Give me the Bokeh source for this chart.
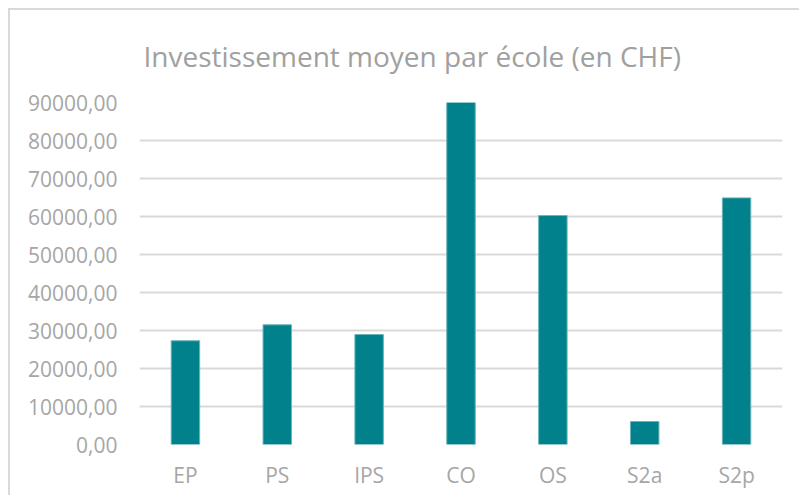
from bokeh.plotting import figure
from bokeh.models import Range1d, FixedTicker, ColumnDataSource
from bokeh.embed import file_html
from bokeh.resources import INLINE

title_text = "Investissement moyen par école (en CHF)"
categories = ["EP", "PS", "IPS", "CO", "OS", "S2a", "S2p"]
values = [27300, 31500, 28950, 90000, 60250, 6050, 64900]
y_ticks = [0, 10000, 20000, 30000, 40000, 50000, 60000, 70000, 80000, 90000]
y_tick_labels = ["0,00", "10000,00", "20000,00", "30000,00", "40000,00",
                 "50000,00", "60000,00", "70000,00", "80000,00", "90000,00"]

src = ColumnDataSource(data=dict(cat=categories, val=values))

p = figure(x_range=categories, y_range=Range1d(0, 90000),
           width=791, height=487, output_backend="svg", toolbar_location=None,
           title=title_text,
           min_border_left=129, min_border_right=19, min_border_top=92,
           min_border_bottom=53,
           styles={"border-left": "2px solid #d9d9d9", "border-top": "2px solid #d9d9d9",
                   "margin-left": "8px", "margin-top": "8px"})

p.vbar(x="cat", top="val", width=0.31, source=src,
       fill_color="#00818B", line_color="#6db5ba", line_width=1)

p.outline_line_color = None
p.background_fill_color = "white"
p.border_fill_color = "white"

p.title.text_font = "Open Sans"
p.title.text_font_size = "28px"
p.title.text_font_style = "normal"
p.title.text_color = "#a0a0a0"
p.title.align = "left"
p.title.offset = 4
p.title.standoff = 52
p.title.vertical_align = "top"

p.yaxis.ticker = FixedTicker(ticks=y_ticks)
p.yaxis.major_label_overrides = {t: l for t, l in zip(y_ticks, y_tick_labels)}
p.yaxis.axis_line_color = None
p.yaxis.major_tick_line_color = None
p.yaxis.minor_tick_line_color = None
p.yaxis.major_label_standoff = 16
p.yaxis.major_label_text_font = "Open Sans"
p.yaxis.major_label_text_font_size = "21px"
p.yaxis.major_label_text_color = "#a6a6a6"

p.xaxis.axis_line_color = None
p.xaxis.major_tick_line_color = None
p.xaxis.minor_tick_line_color = None
p.xaxis.major_label_standoff = 10
p.xaxis.major_label_text_font = "Open Sans"
p.xaxis.major_label_text_font_size = "21px"
p.xaxis.major_label_text_color = "#a6a6a6"

p.xgrid.grid_line_color = None
p.ygrid.grid_line_color = "#d9d9d9"
p.ygrid.grid_line_width = 2
p.x_range.range_padding = 0

open("out.html", "w").write(file_html(p, INLINE))
